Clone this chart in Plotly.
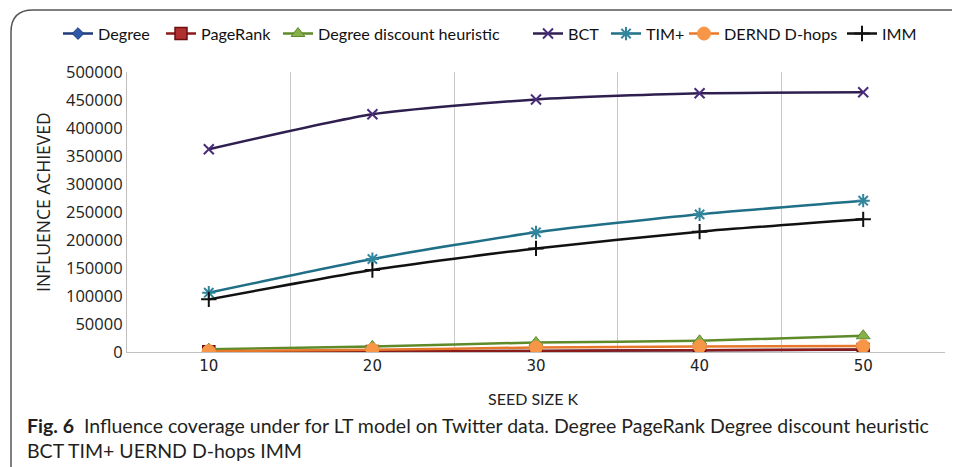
import plotly.graph_objects as go

seed_sizes = ["10", "20", "30", "40", "50"]
degree = [600, 1200, 2000, 3000, 4000]
pagerank = [500, 1000, 2000, 3000, 4500]
degree_discount = [5000, 10000, 17000, 20000, 29000]
bct = [362000, 424500, 451000, 462000, 463700]
tim_plus = [105900, 166000, 213700, 245800, 270200]
dernd = [1500, 4000, 8000, 10000, 10500]
imm = [94000, 146400, 185000, 214900, 236900]

series = [
    ("Degree", degree, "#1f3a78", dict(symbol="diamond", size=9, color="#2e5aa8", line=dict(color="#1f3a78", width=1))),
    ("PageRank", pagerank, "#8b1a1a", dict(symbol="square", size=12, color="#b03030", line=dict(color="#6b0f0f", width=1.5))),
    ("Degree discount heuristic", degree_discount, "#5f8a2a", dict(symbol="triangle-up", size=12, color="#86b04a", line=dict(color="#5f8a2a", width=1))),
    ("BCT", bct, "#2e1f4f", dict(symbol="x-thin-open", size=10, color="#4a2d7a", line=dict(color="#4a2d7a", width=2))),
    ("TIM+", tim_plus, "#1f6f87", dict(symbol="asterisk-open", size=11, color="#31859c", line=dict(color="#31859c", width=2))),
    ("DERND D-hops", dernd, "#e7772b", dict(symbol="circle", size=13, color="#f79646", line=dict(color="#f79646", width=1))),
    ("IMM", imm, "#111111", dict(symbol="cross-thin-open", size=11, color="#111111", line=dict(color="#111111", width=2))),
]
# screen x where each legend entry starts
legend_x = [58, 161, 278, 528, 606, 684, 842]

# page body has an 8px margin; work in screen pixels and subtract it
OFF = 8
W, H = 960 - OFF, 467 - OFF
L, R, T, B = 127, 945, 72, 352          # plot box in screen pixels
ml, mt = L - OFF, T - OFF
mr, mb = W - (R - OFF), H - (B - OFF)
pw, ph = R - L, B - T

def px(x):
    return (x - L) / pw

def py(y):
    return (B - y) / ph

def cx(x):
    return (x - OFF) / W

def cy(y):
    return 1 - (y - OFF) / H

fig = go.Figure()
legends = {}
for i, (name, vals, lc, mk) in enumerate(series):
    key = "legend" if i == 0 else f"legend{i + 1}"
    fig.add_trace(go.Scatter(x=seed_sizes, y=vals, name=name, mode="lines+markers",
                             line=dict(color=lc, width=2.5, shape="spline", smoothing=0.6),
                             marker=mk, legend=key))
    legends[key] = dict(orientation="h", xref="container", yref="container",
                        x=cx(legend_x[i]), xanchor="left", y=cy(34), yanchor="middle",
                        font=dict(family="Lato", size=16.2, color="#111111"),
                        bgcolor="rgba(0,0,0,0)", borderwidth=0)

frame_path = (f"M {px(11)},{py(475)} L {px(11)},{py(32)} "
              f"Q {px(11)},{py(10)} {px(33)},{py(10)} L {px(975)},{py(10)}")

fig.update_layout(
    width=W, height=H,
    margin=dict(l=ml, r=mr, t=mt, b=mb, autoexpand=False),
    paper_bgcolor="white", plot_bgcolor="white",
    font=dict(family="Open Sans", color="#222222"),
    showlegend=True,
    xaxis=dict(type="category", tickson="boundaries", showgrid=True, gridcolor="#c9c9c9",
               gridwidth=1.2, showline=True, linecolor="#c0c0c0", linewidth=1.2,
               ticks="", tickfont=dict(family="DejaVu Sans", size=15, color="#222222"),
               range=[-0.5, 4.5], zeroline=False),
    yaxis=dict(range=[0, 500000], dtick=50000, tickformat="d", showgrid=False,
               showline=True, linecolor="#c0c0c0", linewidth=1.2, ticks="",
               tickfont=dict(family="Open Sans", size=16.5, color="#222222"), zeroline=False),
    shapes=[dict(type="path", path=frame_path, xref="paper", yref="paper",
                 line=dict(color="#555555", width=1.5))],
    annotations=[
        dict(text="INFLUENCE ACHIEVED", xref="paper", yref="paper", x=px(43), y=py(202),
             xanchor="center", yanchor="middle",
             textangle=-90, showarrow=False, font=dict(family="Open Sans", size=17.5, color="#222222")),
        dict(text="SEED SIZE K", xref="paper", yref="paper", x=px(533), y=py(398),
             xanchor="center", yanchor="middle",
             showarrow=False, font=dict(family="Lato", size=16, color="#222222")),
        dict(text="<b>Fig. 6</b>  Influence coverage under for LT model on Twitter data. Degree PageRank Degree discount heuristic<br>BCT TIM+ UERND D-hops IMM",
             xref="paper", yref="paper", x=px(25), y=py(438), xanchor="left", yanchor="middle",
             align="left", showarrow=False, font=dict(family="Lato", size=19.5, color="#231f20")),
    ],
)
fig.update_layout(**legends)

fig.write_html("out.html")
